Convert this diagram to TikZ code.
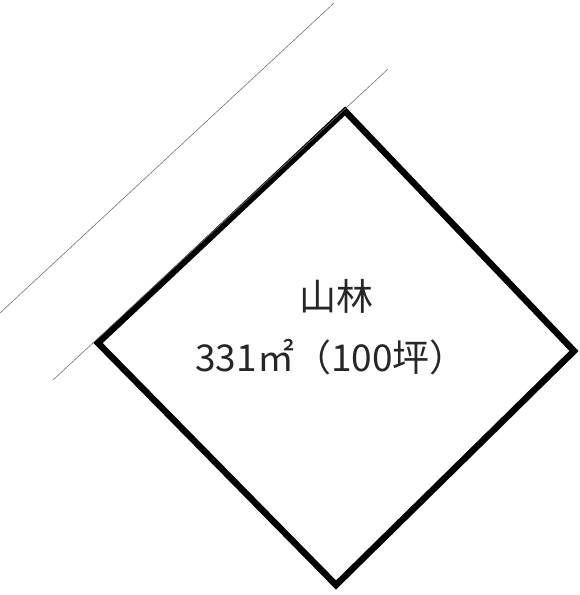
\documentclass[tikz,border=0pt]{standalone}
\usepackage{fontspec}
\newfontfamily\cjk{Noto Sans CJK JP}
\begin{document}
\begin{tikzpicture}[x=1pt,y=-1pt,
  lot/.style={line width=6.5pt,line join=miter},
  road/.style={line width=0.6pt,draw=black!55},
  lbl/.style={font=\cjk\fontsize{37}{42}\selectfont,text=black!85,inner sep=0pt}]
\useasboundingbox (0,0) rectangle (580,595);
\coordinate (t) at (345,111);
\coordinate (l) at (98,343);
\coordinate (b) at (336,585);
\coordinate (r) at (574,351);
\draw[lot] (t) -- (r) -- (b) -- (l) -- cycle;
\coordinate (a1) at (0,313);
\coordinate (a2) at (334,3);
\coordinate (b1) at (53,380);
\coordinate (b2) at (388,69);
\draw[road] (a1) -- (a2);
\draw[road] (b1) -- (b2);
\node[lbl] (n1) at (336,296) {山林};
\node[lbl] (n2) at (331,357) {331㎡（100坪）};
\end{tikzpicture}
\end{document}
